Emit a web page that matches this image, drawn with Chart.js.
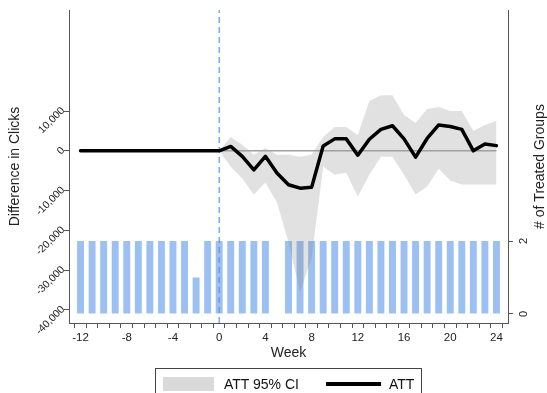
<!DOCTYPE html>
<html><head><meta charset="utf-8">
<script src="https://cdn.jsdelivr.net/npm/chart.js@4.4.0/dist/chart.umd.min.js"></script>
<style>
html,body{margin:0;padding:0;background:#fff;overflow:hidden}
#wrap{position:relative;width:547px;height:393px;overflow:hidden}
#c{position:absolute;left:0;top:0}
#legend{position:absolute;left:155px;top:368px;width:267px;height:40px;border:1px solid #444;box-sizing:border-box;font-family:"Liberation Sans",Arial,sans-serif;font-size:14px;color:#111}
#legend .sw{position:absolute;left:7px;top:8px;width:51px;height:14px;background:#dadada}
#legend .t1{position:absolute;left:68px;top:6px;line-height:18px}
#legend .ln{position:absolute;left:170px;top:13px;width:55px;height:4px;background:#000}
#legend .t2{position:absolute;left:233px;top:6px;line-height:18px}
</style></head>
<body>
<div id="wrap">
<canvas id="c" width="547" height="393"></canvas>
<div id="legend"><div class="sw"></div><span class="t1">ATT 95% CI</span><div class="ln"></div><span class="t2">ATT</span></div>
</div>
<script>
// ---- data ----
const weeks = [-12,-11,-10,-9,-8,-7,-6,-5,-4,-3,-2,-1,0,1,2,3,4,5,6,7,8,9,10,11,12,13,14,15,16,17,18,19,20,21,22,23,24];
const att = [0,0,0,0,0,0,0,0,0,0,0,0,0,1100,-1400,-4800,-1400,-5600,-8550,-9400,-9200,1200,3000,3000,-1100,2900,5400,6300,3000,-1600,3100,6500,6100,5400,0,1700,1300];
const ciWeeks = [0,1,2,3,4,5,6,7,8,9,10,11,12,13,14,15,16,17,18,19,20,21,22,23,24];
const ciUpper = [0,3500,1500,-1000,700,-1000,-1000,-1500,-1000,3500,6000,6000,4000,12500,14000,14000,9000,7000,10500,11000,10000,10000,5000,6500,7500];
const ciLower = [0,-4000,-7000,-11000,-8000,-13000,-23000,-35500,-27000,-4000,-6000,-5500,-11500,-6000,-1500,-1500,-6000,-11000,-9000,-4500,-7500,-8500,-8500,-8500,-8500];
const treatedGroups = [2,2,2,2,2,2,2,2,2,2,1,2,2,2,2,2,2,0,2,2,2,2,2,2,2,2,2,2,2,2,2,2,2,2,2,2,2];
const xTickLabels = [-12,-8,-4,0,4,8,12,16,20,24];
const yTicks = [-40000,-30000,-20000,-10000,0,10000];
const y2Ticks = [0,2];
const Y_MIN = -43320, Y_MAX = 35420;
const Y2_MIN = -0.247, Y2_MAX = 8.33;

const FONT = '"Liberation Sans", Arial, Helvetica, sans-serif';

const textPlugin = {
  id: 'textPlugin',
  afterDraw(chart) {
    const ctx = chart.ctx, y = chart.scales.y, y2 = chart.scales.y2, ca = chart.chartArea;
    ctx.save();
    ctx.fillStyle = '#222';
    ctx.font = '10.5px ' + FONT;
    yTicks.forEach(v => {
      const py = y.getPixelForValue(v);
      ctx.save();
      ctx.translate(y.right - 6, py - 2);
      ctx.rotate(-Math.PI / 4);
      ctx.textAlign = 'right'; ctx.textBaseline = 'middle';
      ctx.fillText(v.toLocaleString('en-US'), 0, 0);
      ctx.restore();
    });
    ctx.font = '11px ' + FONT;
    y2Ticks.forEach(v => {
      const py = y2.getPixelForValue(v);
      ctx.save();
      ctx.translate(y2.left + 16, py);
      ctx.rotate(-Math.PI / 2);
      ctx.textAlign = 'center'; ctx.textBaseline = 'middle';
      ctx.fillText(String(v), 0, 0);
      ctx.restore();
    });
    ctx.font = '14px ' + FONT;
    const cy = (ca.top + ca.bottom) / 2;
    ctx.save(); ctx.translate(15, cy); ctx.rotate(-Math.PI / 2);
    ctx.textAlign = 'center'; ctx.textBaseline = 'middle';
    ctx.fillText('Difference in Clicks', 0, 0); ctx.restore();
    ctx.save(); ctx.translate(540, cy); ctx.rotate(-Math.PI / 2);
    ctx.textAlign = 'center'; ctx.textBaseline = 'middle';
    ctx.fillText('# of Treated Groups', 0, 0); ctx.restore();
    ctx.textAlign = 'center'; ctx.textBaseline = 'middle';
    ctx.fillText('Week', (ca.left + ca.right) / 2, 353);
    ctx.restore();
  }
};

new Chart(document.getElementById('c'), {
  type: 'bar',
  data: {
    datasets: [
      { type: 'line', label: 'ATT', data: weeks.map((w, i) => ({x: w, y: att[i]})),
        borderColor: '#000', borderWidth: 3.5, pointRadius: 0, tension: 0, yAxisID: 'y', order: 0,
        borderJoinStyle: 'round', borderCapStyle: 'round' },
      { type: 'line', label: 'zero', data: [{x: -12, y: 0}, {x: 24, y: 0}],
        borderColor: '#a0a0a0', borderWidth: 1.5, pointRadius: 0, yAxisID: 'y', order: 1 },
      { type: 'line', label: 'lower', data: ciWeeks.map((w, i) => ({x: w, y: ciLower[i]})),
        borderWidth: 0, borderColor: 'rgba(0,0,0,0)', pointRadius: 0, fill: false, yAxisID: 'y', order: 2 },
      { type: 'line', label: 'ATT 95% CI', data: ciWeeks.map((w, i) => ({x: w, y: ciUpper[i]})),
        borderWidth: 0, borderColor: 'rgba(0,0,0,0)', pointRadius: 0, fill: '-1',
        backgroundColor: 'rgba(128,128,128,0.24)', yAxisID: 'y', order: 2 },
      { type: 'line', label: 'event', data: [{x: 0, y: Y_MIN}, {x: 0, y: Y_MAX}],
        borderColor: '#5b95e6', borderWidth: 1.2, borderDash: [6, 4], pointRadius: 0, yAxisID: 'y', order: 1 },
      { type: 'bar', label: 'groups', data: weeks.map((w, i) => ({x: w, y: treatedGroups[i]})),
        backgroundColor: '#9cc0f2', barPercentage: 0.6, categoryPercentage: 1, yAxisID: 'y2', order: 5 }
    ]
  },
  options: {
    responsive: false, animation: false, events: [],
    layout: { padding: { left: 0, right: 0, top: 10, bottom: 29 } },
    plugins: { legend: { display: false }, tooltip: { enabled: false } },
    scales: {
      x: {
        type: 'linear', min: -13, max: 25, offset: false,
        afterBuildTicks: s => { s.ticks = weeks.map(v => ({value: v})); },
        afterFit: s => { s.height = 41; },
        ticks: { autoSkip: false, maxRotation: 0, minRotation: 0, color: '#222', padding: 3,
          font: { size: 11.5, family: FONT },
          callback: v => xTickLabels.includes(v) ? String(v) : '' },
        grid: { drawOnChartArea: false, drawTicks: true, tickLength: 5, color: '#555' },
        border: { display: true, color: '#555', width: 1 }
      },
      y: {
        type: 'linear', position: 'left', min: Y_MIN, max: Y_MAX,
        afterBuildTicks: s => { s.ticks = yTicks.map(v => ({value: v})); },
        afterFit: s => { s.width = 69; },
        ticks: { color: 'rgba(0,0,0,0)', font: { size: 10 } },
        grid: { drawOnChartArea: false, drawTicks: true, tickLength: 5, color: '#555' },
        border: { display: true, color: '#555', width: 1 }
      },
      y2: {
        type: 'linear', position: 'right', min: Y2_MIN, max: Y2_MAX,
        afterBuildTicks: s => { s.ticks = y2Ticks.map(v => ({value: v})); },
        afterFit: s => { s.width = 39; },
        ticks: { color: 'rgba(0,0,0,0)', font: { size: 10 } },
        grid: { drawOnChartArea: false, drawTicks: true, tickLength: 5, color: '#555' },
        border: { display: true, color: '#555', width: 1 }
      }
    }
  },
  plugins: [textPlugin]
});
</script>
</body></html>
